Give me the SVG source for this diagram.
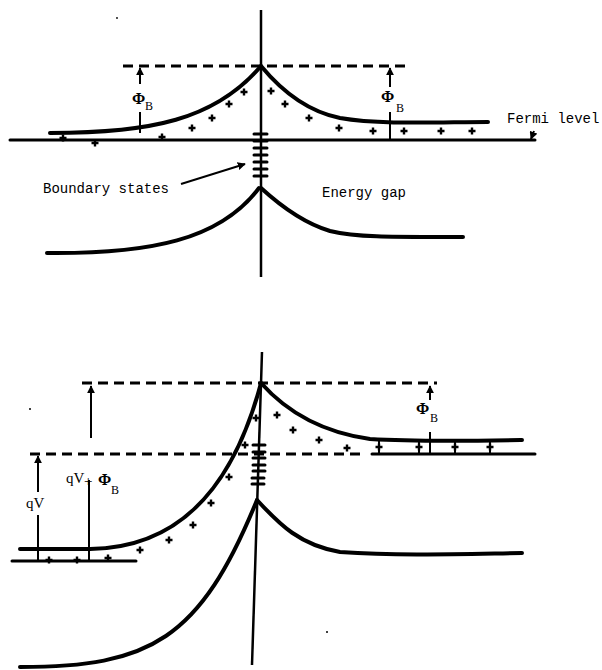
<svg xmlns="http://www.w3.org/2000/svg" width="602" height="670" viewBox="0 0 602 670">
<style>
.band{fill:none;stroke:#000;stroke-width:4;stroke-linecap:round;stroke-linejoin:round}
.axis{fill:none;stroke:#000;stroke-width:2.5}
.fermi{fill:none;stroke:#000;stroke-width:3;stroke-linecap:round}
.dash{fill:none;stroke:#000;stroke-width:3;stroke-dasharray:10 6}
.thin{fill:none;stroke:#000;stroke-width:2}
.tick{stroke:#000;stroke-width:3;stroke-linecap:round}
.mono{font-family:"Liberation Mono","DejaVu Sans Mono",monospace;font-size:14px;fill:#000}
.phi{font-family:"Liberation Serif","DejaVu Serif",serif;font-size:16px;font-weight:bold;fill:#000}
.sub{font-family:"Liberation Serif","DejaVu Serif",serif;font-size:12px;fill:#000}
.qv{font-family:"Liberation Serif","DejaVu Serif",serif;font-size:15px;fill:#000}
</style>
<defs>
<marker id="ah" viewBox="0 0 10 10" refX="9" refY="5" markerWidth="4" markerHeight="4" orient="auto-start-reverse"><path d="M0,0 L10,5 L0,10 z" fill="#000"/></marker>
<g id="plus"><path d="M-3.5,0 H3.5 M0,-3.5 V3.5" stroke="#000" stroke-width="2.4"/></g>
</defs>
<rect width="602" height="670" fill="#fff"/>

<g id="top-panel">
 <g id="top-axis"><line class="axis" x1="261" y1="10" x2="261" y2="277"/></g>
 <g id="top-fermi-level"><line class="fermi" x1="10" y1="140" x2="535" y2="140"/></g>
 <g id="top-barrier-dash"><line class="dash" x1="123" y1="66" x2="405" y2="66"/></g>
 <g id="top-conduction-band">
  <path class="band" d="M50,133 C150,133 215,120 261,66"/>
  <path class="band" d="M261,66 C285,95 310,112 340,118 C380,125 440,122 488,122"/>
 </g>
 <g id="top-valence-band">
  <path class="band" d="M47,253 C150,254 220,240 259,188"/>
  <path class="band" d="M261,188 C285,210 310,225 330,231 C360,238 400,237 463,237"/>
 </g>
 <g id="top-boundary-states">
  <path class="tick" d="M254,134 H267 M254,141 H267 M254,148 H267 M254,155 H267 M254,162 H267 M254,169 H267 M254,176 H267"/>
 </g>
 <g id="top-charges">
  <use href="#plus" x="162" y="137"/><use href="#plus" x="192" y="128"/><use href="#plus" x="212" y="118"/>
  <use href="#plus" x="229" y="104"/><use href="#plus" x="244" y="92"/><use href="#plus" x="271" y="91"/>
  <use href="#plus" x="285" y="104"/><use href="#plus" x="309" y="118"/><use href="#plus" x="339" y="128"/>
  <use href="#plus" x="373" y="131"/><use href="#plus" x="404" y="131"/><use href="#plus" x="441" y="131"/>
  <use href="#plus" x="472" y="131"/><use href="#plus" x="63" y="138"/><use href="#plus" x="95" y="143"/>
 </g>
 <g id="top-phiB-left">
  <line class="thin" x1="140" y1="84" x2="140" y2="68" marker-end="url(#ah)"/>
  <line class="thin" x1="140" y1="112" x2="140" y2="133"/>
  <text class="phi" x="132" y="104">Φ</text><text class="sub" x="145" y="110">B</text>
 </g>
 <g id="top-phiB-right">
  <line class="thin" x1="390" y1="87" x2="390" y2="68" marker-end="url(#ah)"/>
  <line class="thin" x1="390" y1="112" x2="390" y2="140"/>
  <text class="phi" x="381" y="102">Φ</text><text class="sub" x="396" y="112">B</text>
 </g>
 <g id="fermi-label">
  <text class="mono" x="507" y="123" font-size="12.4">Fermi level</text>
  <line class="thin" x1="534" y1="131" x2="531" y2="139" marker-end="url(#ah)"/>
 </g>
 <g id="boundary-label">
  <text class="mono" x="43" y="193" font-size="14.3">Boundary states</text>
  <line class="thin" x1="181" y1="184" x2="245" y2="164" stroke-width="2.5" marker-end="url(#ah)"/>
 </g>
 <g id="gap-label"><text class="mono" x="322" y="197" font-size="15">Energy gap</text></g>
</g>

<g id="bottom-panel">
 <g id="bottom-axis"><line class="axis" x1="262" y1="352" x2="252" y2="665"/></g>
 <g id="bottom-dashes">
  <line class="dash" x1="82" y1="383" x2="437" y2="383"/>
  <line class="dash" x1="30" y1="454" x2="366" y2="454"/>
 </g>
 <g id="bottom-fermi-levels">
  <line class="fermi" x1="372" y1="454" x2="535" y2="454"/>
  <line class="fermi" x1="12" y1="561" x2="136" y2="561"/>
 </g>
 <g id="bottom-conduction-band">
  <path class="band" d="M20,549 L90,549 C170,548 230,500 261,383"/>
  <path class="band" d="M261,383 C285,410 320,432 370,439 C420,442 470,441 522,440"/>
 </g>
 <g id="bottom-valence-band">
  <path class="band" d="M20,667 C150,667 200,640 257,500"/>
  <path class="band" d="M257,500 C280,525 300,545 340,552 C400,556 460,554 522,553"/>
 </g>
 <g id="bottom-boundary-states">
  <path class="tick" d="M253,445 H265 M253,452 H265 M253,458 H265 M253,465 H265 M253,471 H265 M252,478 H264 M252,484 H264"/>
 </g>
 <g id="bottom-charges">
  <use href="#plus" x="277" y="415"/><use href="#plus" x="293" y="430"/><use href="#plus" x="319" y="440"/>
  <use href="#plus" x="347" y="448"/><use href="#plus" x="245" y="445"/><use href="#plus" x="229" y="477"/>
  <use href="#plus" x="211" y="503"/><use href="#plus" x="193" y="525"/><use href="#plus" x="169" y="540"/>
  <use href="#plus" x="140" y="550"/><use href="#plus" x="108" y="558"/><use href="#plus" x="77" y="560"/>
  <use href="#plus" x="49" y="560"/><use href="#plus" x="256" y="418"/>
  <use href="#plus" x="379" y="447"/><use href="#plus" x="419" y="447"/><use href="#plus" x="455" y="447"/><use href="#plus" x="490" y="447"/>
  <path class="thin" d="M379,441 V454 M419,441 V454 M455,441 V454 M490,441 V454"/>
 </g>
 <g id="bottom-phiB-right">
  <line class="thin" x1="430" y1="400" x2="430" y2="386" marker-end="url(#ah)"/>
  <line class="thin" x1="430" y1="432" x2="430" y2="454"/>
  <text class="phi" x="416" y="414">Φ</text><text class="sub" x="430" y="422">B</text>
 </g>
 <g id="bottom-qV">
  <line class="thin" x1="38" y1="492" x2="38" y2="456" marker-end="url(#ah)"/>
  <line class="thin" x1="38" y1="515" x2="38" y2="561"/>
  <text class="qv" x="26" y="508">qV</text>
 </g>
 <g id="bottom-qV-phiB">
  <line class="thin" x1="89" y1="480" x2="89" y2="561"/>
  <text class="qv" x="66" y="483" font-size="13">qV</text><text class="qv" x="84" y="486" font-size="11">+</text>
  <text class="phi" x="98" y="485">Φ</text><text class="sub" x="111" y="494">B</text>
 </g>
 <g id="bottom-upper-arrow">
  <line class="thin" x1="91" y1="438" x2="91" y2="386" marker-end="url(#ah)"/>
 </g>
</g>
<g id="specks" fill="#000">
 <circle cx="117" cy="18" r="0.9"/><circle cx="30" cy="409" r="1"/><circle cx="327" cy="632" r="1"/>
</g>
</svg>
